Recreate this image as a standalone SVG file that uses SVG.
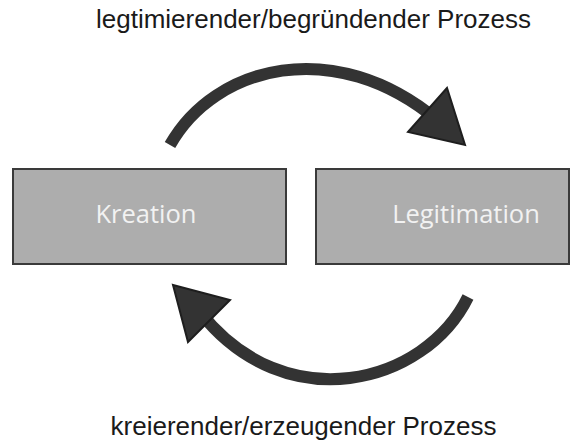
<svg xmlns="http://www.w3.org/2000/svg" width="581" height="441" viewBox="0 0 581 441">
  <style>
    .box { fill: #adadad; stroke: #3a3a3a; stroke-width: 2; }
    .boxlabel { font-family: "Open Sans", "Noto Sans", sans-serif; font-size: 25.5px; fill: #f2f2f2; text-anchor: middle; }
    .caption { font-family: "Liberation Sans", Arial, sans-serif; font-size: 26px; fill: #1a1a1a; text-anchor: middle; }
    .arc { fill: none; stroke: #333333; stroke-width: 12; }
    .head { fill: #333333; stroke: #1e1e1e; stroke-width: 2; stroke-linejoin: miter; }
  </style>
  <rect width="581" height="441" fill="#ffffff"/>

  <text class="caption" x="313.5" y="28">legtimierender/begründender Prozess</text>
  <text class="caption" x="303.5" y="435">kreierender/erzeugender Prozess</text>

  <g id="kreation">
    <rect class="box" x="13" y="169" width="273" height="95"/>
    <text class="boxlabel" x="146" y="223">Kreation</text>
  </g>
  <g id="legitimation">
    <rect class="box" x="316" y="169" width="253" height="95"/>
    <text class="boxlabel" x="466" y="223">Legitimation</text>
  </g>

  <g id="connectors">
    <path class="arc" d="M170,145 C215,65 335,35 437,120"/>
    <polygon class="head" points="447,88 408,132 465,145"/>
    <path class="arc" d="M468,297 C425,385 285,420 200,312"/>
    <polygon class="head" points="173,285 230,300 188,342"/>
  </g>
</svg>
